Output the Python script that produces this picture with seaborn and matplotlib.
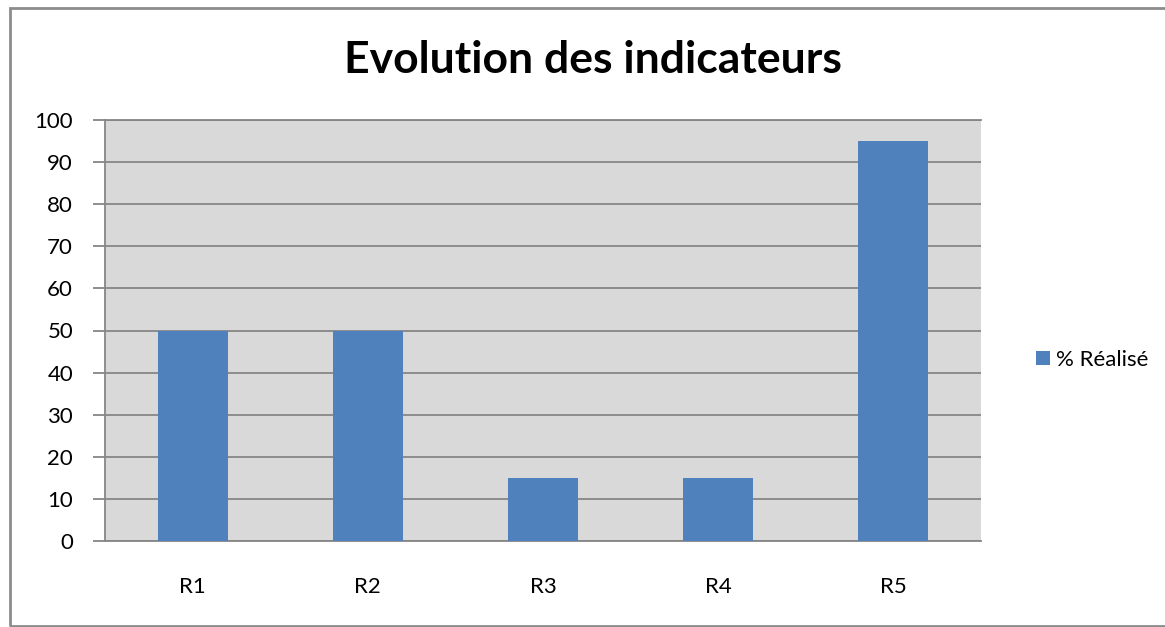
import matplotlib
matplotlib.use('Agg')
import matplotlib.pyplot as plt
import seaborn as sns
import pandas as pd
from matplotlib.patches import Rectangle

# chart data
categories = ['R1', 'R2', 'R3', 'R4', 'R5']
realise = [50, 50, 15, 15, 95]
series_name = '% Réalisé'

sns.set_theme(style='white')
plt.rcParams['font.family'] = ['Lato', 'DejaVu Sans']
plt.rcParams['text.color'] = 'black'
plt.rcParams['xtick.labelcolor'] = 'black'
plt.rcParams['ytick.labelcolor'] = 'black'

bar_color = '#4F81BD'
grid_color = '#868686'

df = pd.DataFrame({'cat': categories, 'val': realise})

fig = plt.figure(figsize=(11.65, 6.27), dpi=100)
ax = fig.add_axes([105 / 1165, 1 - 541 / 627, (981 - 105) / 1165, (541 - 120) / 627])
ax.set_facecolor('#D9D9D9')

sns.barplot(data=df, x='cat', y='val', color=bar_color, width=0.4,
            saturation=1, linewidth=0, label=series_name, ax=ax, zorder=3)

ax.set_xlim(-0.5, len(categories) - 0.5)
ax.set_ylim(0, 100)
ax.set_yticks(range(0, 101, 10))
ax.set_xlabel('')
ax.set_ylabel('')

ax.set_axisbelow(True)
ax.yaxis.grid(True, color=grid_color, lw=1.3)
for side in ['left', 'bottom', 'top']:
    ax.spines[side].set_color(grid_color)
    ax.spines[side].set_linewidth(1.3)
ax.spines['right'].set_visible(False)

# category boundary ticks on x, labels at centres
ax.set_xticks([i - 0.5 for i in range(len(categories) + 1)], minor=True)
ax.tick_params(axis='x', which='major', length=0, pad=26, labelsize=16)
ax.tick_params(axis='x', which='minor', length=10, width=1.5, color=grid_color, direction='out')
ax.tick_params(axis='y', length=9, width=1.3, color=grid_color, direction='out',
               pad=14, labelsize=16, left=True)
if ax.get_legend() is not None:
    ax.get_legend().remove()

fig.text(0.509, 1 - 73 / 627, 'Evolution des indicateurs', ha='center', va='baseline',
         fontsize=32, fontweight='bold', color='black')

handles, labels = ax.get_legend_handles_labels()
fig.legend(handles, labels, loc='center left', bbox_to_anchor=(1016 / 1165, 1 - 360 / 627),
           frameon=False, fontsize=16, handlelength=0.62, handleheight=0.62,
           handletextpad=0.3)

# outer chart border (right side runs off the canvas)
fig.patches.append(Rectangle((10 / 1165, 1 - 626 / 627), 1.1, (626 - 8) / 627,
                             transform=fig.transFigure, fill=False,
                             edgecolor='#8C8C8C', lw=2, clip_on=False))

fig.savefig('out.png', dpi=100)
